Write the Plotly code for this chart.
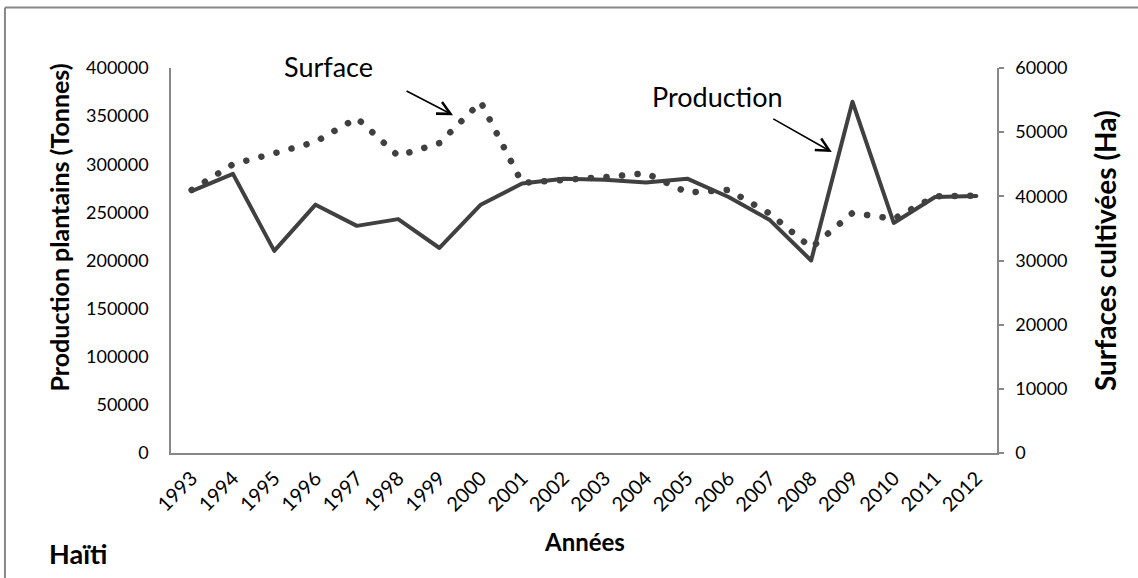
import plotly.graph_objects as go

# Haïti — production de plantains et surfaces cultivées, 1993–2012
annees = list(range(1993, 2013))
production_t = [272000, 290000, 210000, 258000, 236000, 243000, 213000, 258000,
                280000, 285000, 284000, 281000, 285000, 266000, 242000, 200000,
                365000, 239000, 266000, 267000]
surface_ha = [41000, 45000, 46700, 48500, 52200, 46300, 48300, 54700,
              42100, 42500, 43000, 43600, 40600, 41000, 37300, 32000,
              37400, 36500, 40000, 40100]

FONT = "Lato, Carlito, Calibri, sans-serif"
GREY = "#404040"
AXIS = "#888888"

fig = go.Figure()
fig.add_trace(go.Scatter(
    x=annees, y=production_t, name="Production", mode="lines",
    line=dict(color=GREY, width=4), yaxis="y",
))
fig.add_trace(go.Scatter(
    x=annees, y=surface_ha, name="Surface", mode="lines",
    line=dict(color=GREY, width=6.5, dash="0.1px,15.5px"), yaxis="y2",
))

fig.update_layout(
    width=1138, height=578,
    margin=dict(l=171, r=141, t=68, b=125),
    paper_bgcolor="#ffffff", plot_bgcolor="#ffffff",
    font=dict(family=FONT, size=18, color="#000000"),
    showlegend=False,
    xaxis=dict(
        range=[1992.5, 2012.5], tickmode="linear", dtick=1, tick0=1993,
        tickangle=-45, showgrid=False, zeroline=False,
        showline=True, linecolor=AXIS, linewidth=1.5, ticks="",
        ticklabelstandoff=4, tickfont=dict(size=20),
    ),
    yaxis=dict(
        range=[0, 400000], dtick=50000, tickformat="d",
        showgrid=False, zeroline=False,
        showline=True, linecolor=AXIS, linewidth=1.5, ticks="",
        ticklabelstandoff=17, tickfont=dict(size=18),
    ),
    yaxis2=dict(
        range=[0, 60000], dtick=10000, tickformat="d",
        overlaying="y", side="right",
        showgrid=False, zeroline=False,
        showline=True, linecolor=AXIS, linewidth=1.5,
        ticks="outside", ticklen=5, tickcolor=AXIS, tickwidth=1.5,
        ticklabelstandoff=8, tickfont=dict(size=18),
    ),
)

ann = [
    dict(text="Production plantains (Tonnes)", x=-0.135, y=0.587,
         textangle=-90, font=dict(size=25, family=FONT), bold=True),
    dict(text="Surfaces cultivées (Ha)", x=1.131, y=0.525,
         textangle=-90, font=dict(size=28, family=FONT), bold=True),
    dict(text="Années", x=0.5, y=-0.231, font=dict(size=24, family=FONT),
         bold=True),
    dict(text="Haïti", x=-0.1126, y=-0.262, font=dict(size=27, family=FONT),
         bold=True),
    dict(text="Surface", x=0.191, y=1.003, font=dict(size=27, family=FONT)),
    dict(text="Production", x=0.662, y=0.925, font=dict(size=27, family=FONT)),
]
for a in ann:
    bold = a.pop("bold", False)
    if bold:
        a["text"] = f"<b>{a['text']}</b>"
    fig.add_annotation(xref="paper", yref="paper", xanchor="center",
                       yanchor="middle", showarrow=False, **a)

# flèches vers les courbes
for x, y, ax, ay in [(1999.33, 351000, -48, -25), (2008.5, 312700, -60, -34)]:
    fig.add_annotation(x=x, y=y, xref="x", yref="y", ax=ax, ay=ay, text="",
                       showarrow=True, arrowhead=5, arrowsize=1.6,
                       arrowwidth=1.6, arrowcolor="#000000")

# cadre extérieur (haut et gauche visibles)
fig.add_shape(type="line", xref="paper", yref="paper", x0=-0.201, x1=1.3,
              y0=1.157, y1=1.157, line=dict(color=AXIS, width=2))
fig.add_shape(type="line", xref="paper", yref="paper", x0=-0.201, x1=-0.201,
              y0=1.157, y1=-0.5, line=dict(color=AXIS, width=2))

post = """
document.body.style.margin = '0';
document.body.style.overflow = 'hidden';
var s = document.createElement('style');
s.innerHTML = '.scatterlayer path.js-line{stroke-linecap:round;stroke-linejoin:round;}';
document.head.appendChild(s);
"""
fig.write_html("out.html", post_script=post, config={"displayModeBar": False})
